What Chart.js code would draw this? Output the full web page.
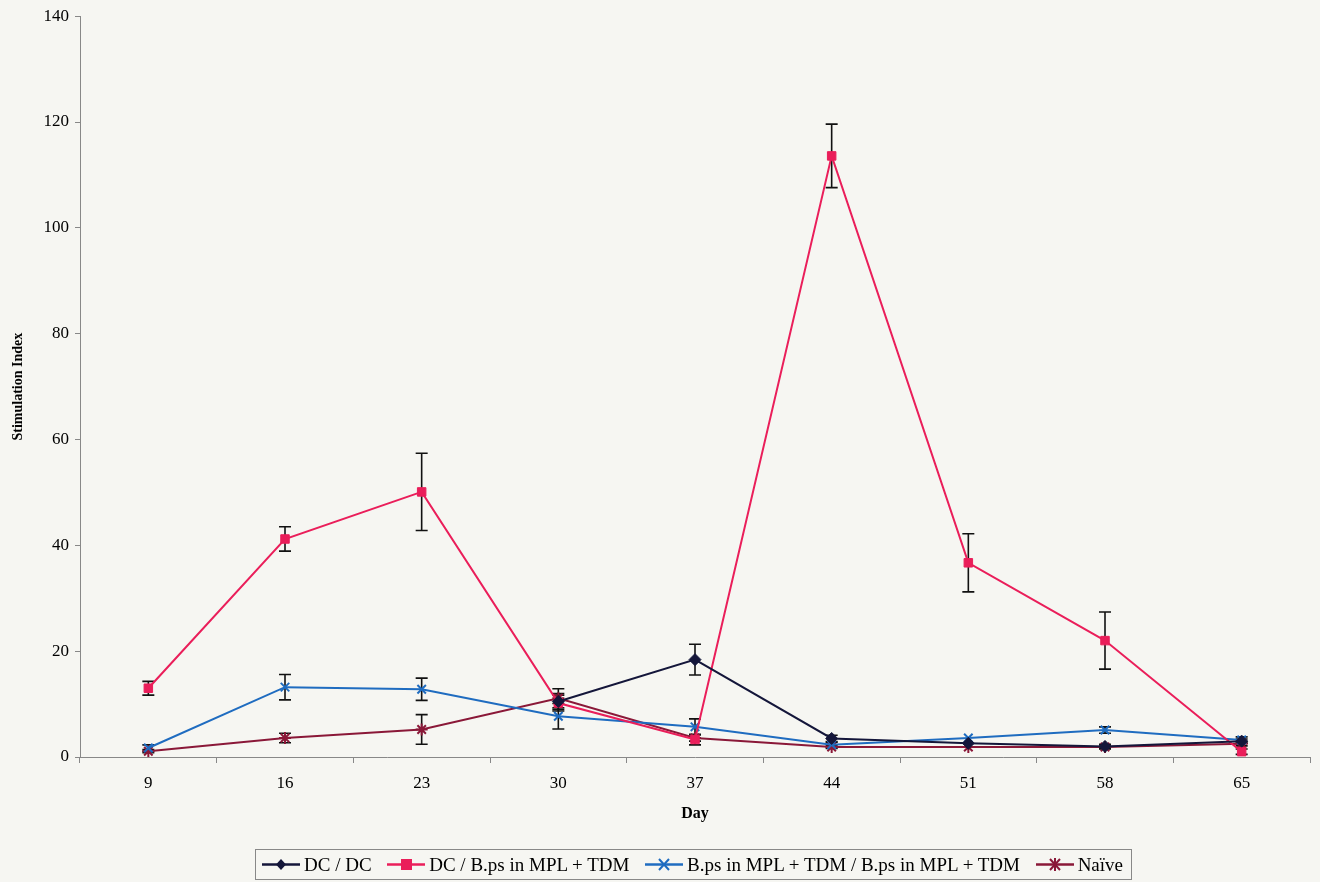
<!DOCTYPE html>
<html>
<head>
<meta charset="utf-8">
<script src="https://cdn.jsdelivr.net/npm/chart.js@4/dist/chart.umd.min.js"></script>
<style>
  html, body { margin: 0; padding: 0; background: #f6f6f2; }
  #wrap { position: relative; width: 1320px; height: 882px; }
  #legend {
    position: absolute; left: 255px; top: 849px; width: 877px; height: 31px;
    border: 1px solid #888; box-sizing: border-box;
    display: flex; align-items: center; justify-content: space-between; padding: 0 8px 0 6px;
    font-family: "Liberation Serif", serif; font-size: 19px; color: #000;
    white-space: nowrap;
  }
  #legend span.item { display: inline-flex; align-items: center; }
  #legend svg { margin-right: 4px; }
</style>
</head>
<body>
<div id="wrap">
  <canvas id="chart" width="1320" height="882"></canvas>
  <div id="legend"></div>
</div>
<script>
// categories (day)
const days = ['9', '16', '23', '30', '37', '44', '51', '58', '65'];

// series values
const dcDc = [null, null, null, 10.5, 18.4, 3.5, 2.6, 2.0, 3.0];
const dcBps = [13.0, 41.2, 50.1, 10.2, 3.3, 113.6, 36.7, 22.0, 1.0];
const bpsBps = [1.7, 13.2, 12.8, 7.7, 5.7, 2.3, 3.6, 5.1, 3.2];
const naive = [1.1, 3.6, 5.2, 11.1, 3.6, 1.9, 1.9, 1.9, 2.5];

// error (+/-) values
const dcDcErr = [null, null, null, 1.5, 2.9, 0.6, 0, 0.4, 0.4];
const dcBpsErr = [1.3, 2.3, 7.3, 1.5, 1.0, 6.0, 5.5, 5.4, 0.5];
const bpsBpsErr = [0.6, 2.4, 2.1, 2.4, 1.5, 0.5, 0, 0.6, 0.6];
const naiveErr = [0.3, 0.9, 2.8, 1.8, 0.6, 0.3, 0, 0.4, 0.4];

const labels = ['DC / DC', 'DC / B.ps in MPL + TDM', 'B.ps in MPL + TDM / B.ps in MPL + TDM', 'Naïve'];
const colors = ['#14163a', '#ea1e5a', '#1f6cc0', '#8a1838'];
const styles = ['rectRot', 'rect', 'crossRot', 'star'];

const yTicks = [0, 20, 40, 60, 80, 100, 120, 140];

const seriesData = [dcDc, dcBps, bpsBps, naive];
const seriesErr = [dcDcErr, dcBpsErr, bpsBpsErr, naiveErr];

// Draw the error bars behind the markers
const errorBars = {
  id: 'errorBars',
  beforeDatasetsDraw(chart) {
    const ctx = chart.ctx;
    const y = chart.scales.y;
    ctx.save();
    ctx.strokeStyle = '#111';
    ctx.lineWidth = 1.6;
    chart.data.datasets.forEach((ds, d) => {
      const meta = chart.getDatasetMeta(d);
      ds.data.forEach((v, i) => {
        const e = seriesErr[d][i];
        if (v === null || !e) return;
        const x = meta.data[i].x;
        const top = y.getPixelForValue(v + e);
        const bot = y.getPixelForValue(Math.max(0, v - e));
        ctx.beginPath();
        ctx.moveTo(x, top); ctx.lineTo(x, bot);
        ctx.moveTo(x - 6, top); ctx.lineTo(x + 6, top);
        ctx.moveTo(x - 6, bot); ctx.lineTo(x + 6, bot);
        ctx.stroke();
      });
    });
    ctx.restore();
  }
};

const datasets = seriesData.map((arr, k) => ({
  label: labels[k],
  data: arr,
  borderColor: colors[k],
  backgroundColor: colors[k],
  pointBorderColor: colors[k],
  pointBackgroundColor: colors[k],
  pointStyle: styles[k],
  pointRadius: 6,
  pointBorderWidth: k >= 2 ? 2 : 1,
  borderWidth: 2,
  tension: 0,
  spanGaps: false
}));

const serif = '"Liberation Serif", "Times New Roman", serif';

new Chart(document.getElementById('chart').getContext('2d'), {
  type: 'line',
  data: { labels: days, datasets: datasets },
  options: {
    responsive: false,
    animation: false,
    layout: { padding: { top: 16, right: 10, bottom: 55, left: 6 } },
    plugins: {
      legend: { display: false },
      tooltip: { enabled: false }
    },
    scales: {
      x: {
        offset: true,
        grid: { display: true, offset: true, drawOnChartArea: false, tickLength: 6, color: '#888', tickColor: '#888' },
        border: { color: '#888', width: 1 },
        ticks: { color: '#000', font: { family: serif, size: 17 }, padding: 10, maxRotation: 0 },
        title: { display: true, text: 'Day', color: '#000', font: { family: serif, size: 16, weight: 'bold' }, padding: { top: 6 } },
        afterFit(s) { s.height = 70; }
      },
      y: {
        min: 0, max: 140,
        afterBuildTicks(s) { s.ticks = yTicks.map(v => ({ value: v })); },
        grid: { display: true, drawOnChartArea: false, tickLength: 5, color: '#888', tickColor: '#888' },
        border: { color: '#888', width: 1 },
        ticks: { color: '#000', font: { family: serif, size: 17 }, padding: 6 },
        title: { display: true, text: 'Stimulation Index', color: '#000', font: { family: serif, size: 14, weight: 'bold' }, padding: { bottom: 6 } },
        afterFit(s) { s.width = 74; }
      }
    }
  },
  plugins: [errorBars]
});

// HTML legend with line + marker icons
const legendEl = document.getElementById('legend');
const icons = [
  '<polygon points="19,3 24,8.5 19,14 14,8.5" fill="C"/>',
  '<rect x="14" y="3" width="11" height="11" fill="C"/>',
  '<path d="M14,3 L24,14 M24,3 L14,14" stroke="C" stroke-width="2"/>',
  '<path d="M14,3 L24,14 M24,3 L14,14 M19,2 L19,15" stroke="C" stroke-width="2"/>'
];
labels.forEach((lab, k) => {
  const item = document.createElement('span');
  item.className = 'item';
  item.innerHTML = '<svg width="38" height="17"><line x1="0" y1="8.5" x2="38" y2="8.5" stroke="' + colors[k] + '" stroke-width="2.5"/>' +
    icons[k].replace(/C/g, colors[k]) + '</svg>' + lab;
  legendEl.appendChild(item);
});
</script>
</body>
</html>
